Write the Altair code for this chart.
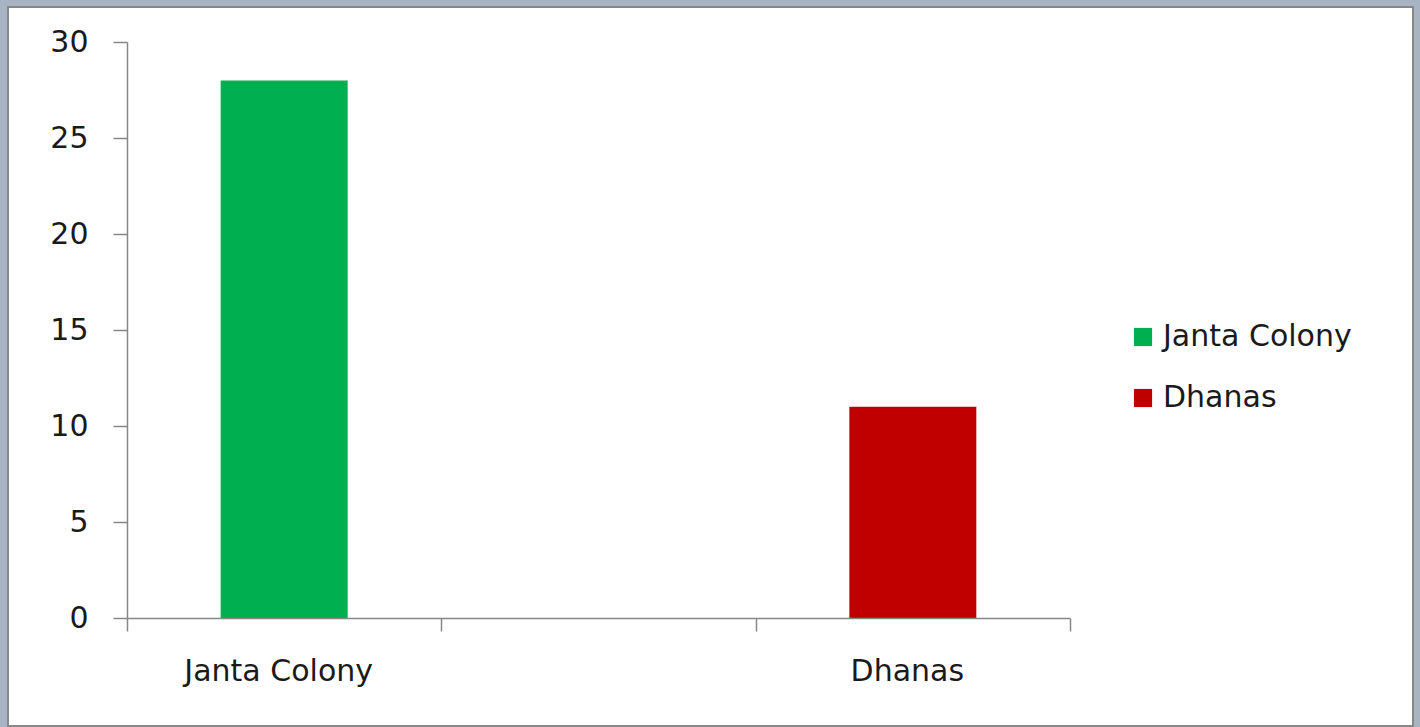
import altair as alt
import pandas as pd

# data
categories = ["Janta Colony", " ", "Dhanas"]
bar_categories = ["Janta Colony", "Dhanas"]
series = ["Janta Colony", "Dhanas"]
values = [28, 11]
colors = ["#00B050", "#C00000"]
y_ticks = [0, 5, 10, 15, 20, 25, 30]

df = pd.DataFrame({"category": bar_categories, "series": series, "value": values})

FONT = "DejaVu Sans"
FS = 30
TEXT = "#1a1a1a"
AXIS = "#878787"

# decorative chart frame (white panel with grey border, like the Excel chart area)
frame = alt.Chart(pd.DataFrame({"f": [0]})).mark_rect(
    fill="white", stroke="#888888", strokeWidth=2
).encode(
    x=alt.value(-119), x2=alt.value(1286),
    y=alt.value(-35), y2=alt.value(684),
)

bars = alt.Chart(df).mark_bar(width=alt.RelativeBandSize(0.404)).encode(
    x=alt.X(
        "category:N",
        scale=alt.Scale(domain=categories, paddingInner=0, paddingOuter=0),
        sort=categories,
        axis=alt.Axis(
            title=None, labelAngle=0, tickBand="extent", tickSize=13,
            labelPadding=25, labelOffset=-6, labelFontSize=FS, labelFont=FONT,
            labelColor=TEXT, domainColor=AXIS, tickColor=AXIS, domainWidth=1.5,
            tickWidth=1.5, grid=False, labelLimit=400, zindex=1,
        ),
    ),
    y=alt.Y(
        "value:Q",
        scale=alt.Scale(domain=[0, 30], nice=False),
        axis=alt.Axis(
            title=None, values=y_ticks, grid=False, tickSize=14, labelPadding=25,
            labelFontSize=FS, labelFont=FONT, labelColor=TEXT,
            domainColor=AXIS, tickColor=AXIS, domainWidth=1.5, tickWidth=1.5,
            zindex=1,
        ),
    ),
    color=alt.Color(
        "series:N",
        scale=alt.Scale(domain=series, range=colors),
        sort=series,
        legend=alt.Legend(
            title=None, orient="none", legendX=1001, legendY=280,
            symbolType="square", symbolSize=330, symbolStrokeWidth=0,
            labelFontSize=FS, labelFont=FONT, labelColor=TEXT, labelOffset=5,
            rowPadding=31, labelLimit=400, zindex=2,
        ),
    ),
)

chart = alt.layer(frame, bars).properties(
    width=943,
    height=576,
    autosize=alt.AutoSizeParams(type="none"),
    padding={"left": 127, "top": 42, "right": 350, "bottom": 109},
).configure(background="#a8b4c4").configure_view(stroke=None)

chart.save("out.html", embed_options={"renderer": "svg", "actions": False})
